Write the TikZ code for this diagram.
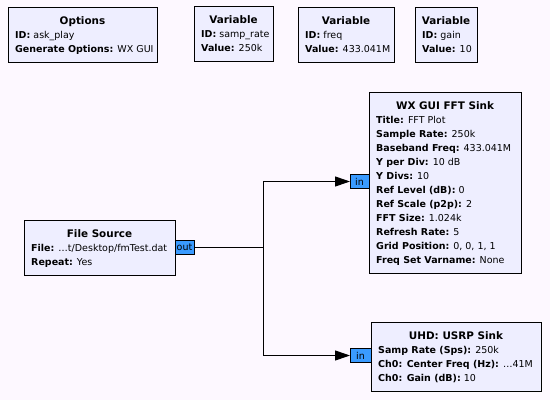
\documentclass[tikz,border=0pt]{standalone}
\usepackage{fontspec}
\setmainfont{DejaVu Sans}
\usetikzlibrary{arrows.meta}
\definecolor{canvas}{RGB}{253,248,255}
\definecolor{blockfill}{RGB}{238,238,255}
\definecolor{portfill}{RGB}{58,155,255}
\tikzset{
  blockbox/.style={draw=black, fill=blockfill, line width=1pt, rectangle, inner sep=0pt, outer sep=0pt},
  titletext/.style={inner sep=0pt, font=\fontsize{10.4}{13}\selectfont\bfseries},
  linetext/.style={inner sep=0pt, font=\fontsize{9.5}{11}\selectfont},
  portbox/.style={draw=black, fill=portfill, line width=0.8pt, rectangle, inner sep=0pt, outer sep=0pt, minimum height=14pt, font=\fontsize{9.5}{11}\selectfont},
  wire/.style={line width=1pt, draw=black},
  arrowwire/.style={wire, -{Triangle[length=15pt,width=10pt]}}
}
\newcommand{\gblock}[7]{%
  \node[blockbox, minimum width={(#4-#2)*1pt}, minimum height={(#5-#3)*1pt}] (#1) at ({(#2+#4)/2},{(#3+#5)/2}) {};
  \node[titletext, anchor=base] (#1-t) at ({(#2+#4)/2},{#3+17}) {#6};
  \foreach [count=\k] \ln in {#7} {
    \node[linetext, anchor=base west] (#1-l\k) at ({#2+7},{#3+31+14*(\k-1)}) {\ln};
  }
}
\begin{document}
\begin{tikzpicture}[x=1pt,y=-1pt]
\useasboundingbox (0,0) rectangle (550,400);
\fill[canvas] (0,0) rectangle (550,400);

\gblock{opt}{8}{7}{157}{62}{Options}{{\textbf{ID:} ask\_play},{\textbf{Generate Options:} WX GUI}}
\gblock{vsr}{194}{6}{273}{61}{Variable}{{\textbf{ID:} samp\_rate},{\textbf{Value:} 250k}}
\gblock{vfr}{298}{7}{394}{62}{Variable}{{\textbf{ID:} freq},{\textbf{Value:} 433.041M}}
\gblock{vgn}{415}{7}{477}{62}{Variable}{{\textbf{ID:} gain},{\textbf{Value:} 10}}

\gblock{fft}{369}{92}{521}{273}{WX GUI FFT Sink}{%
 {\textbf{Title:} FFT Plot},
 {\textbf{Sample Rate:} 250k},
 {\textbf{Baseband Freq:} 433.041M},
 {\textbf{Y per Div:} 10 dB},
 {\textbf{Y Divs:} 10},
 {\textbf{Ref Level (dB):} 0},
 {\textbf{Ref Scale (p2p):} 2},
 {\textbf{FFT Size:} 1.024k},
 {\textbf{Refresh Rate:} 5},
 {\textbf{Grid Position:} 0, 0, 1, 1},
 {\textbf{Freq Set Varname:} None}}

\gblock{src}{24}{220}{175}{275}{File Source}{{\textbf{File:} …t/Desktop/fmTest.dat},{\textbf{Repeat:} Yes}}

\gblock{usrp}{371}{322}{541}{391}{UHD: USRP Sink}{%
 {\textbf{Samp Rate (Sps):} 250k},
 {\textbf{Ch0: Center Freq (Hz):} …41M},
 {\textbf{Ch0: Gain (dB):} 10}}

\node[portbox, minimum width=19pt, anchor=west] (out) at (src.east |- 0,247.5) {out};
\node[portbox, minimum width=19pt, anchor=east] (infft) at (fft.west |- 0,181.5) {in};
\node[portbox, minimum width=21pt, anchor=east] (inusrp) at (usrp.west |- 0,355.5) {in};

\coordinate (split) at (263,247.5);
\draw[wire] (out.east) -- (split);
\draw[arrowwire] (split) |- (infft.west);
\draw[arrowwire] (split) |- (inusrp.west);
\end{tikzpicture}
\end{document}
